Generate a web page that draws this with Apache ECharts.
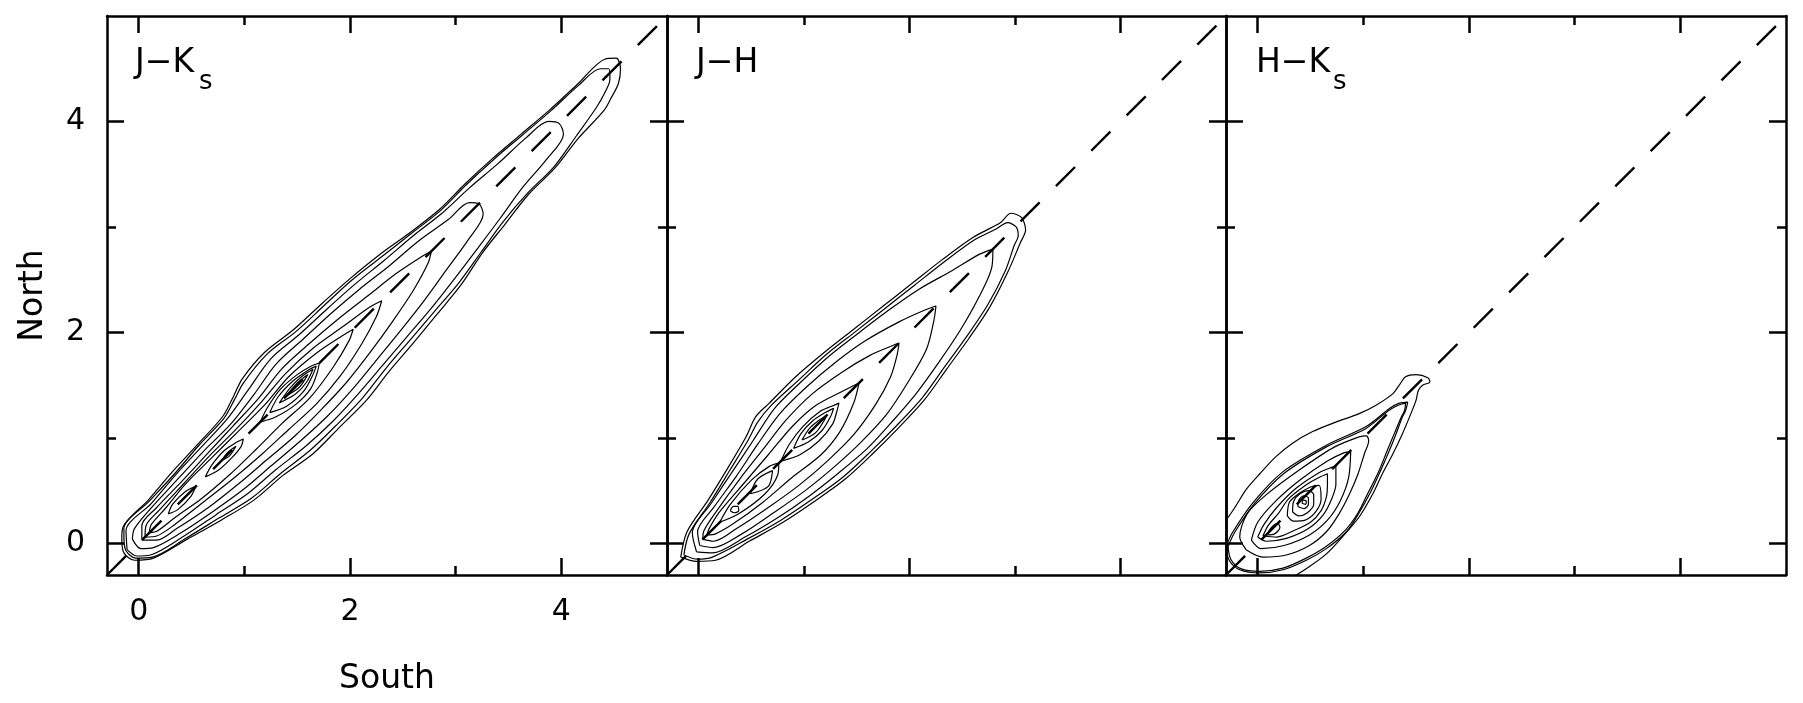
<!DOCTYPE html>
<html><head><meta charset="utf-8">
<script src="https://cdn.jsdelivr.net/npm/echarts@6/dist/echarts.min.js"></script>
<style>html,body{margin:0;padding:0;background:#fff}#c{width:1803px;height:703px}</style>
</head><body><div id="c"></div><script>
// ---------------- data ----------------
const AXIS_RANGE = [-0.3, 5.0];
const MAJOR_TICKS = [0, 2, 4];
const MINOR_TICKS = [1, 3];
const TICK_LABELS = ['0', '2', '4'];
const PANEL_NAMES = ['J\u2212K', 'J\u2212H', 'H\u2212K'];
const PANEL_SUBS = ['s', '', 's'];
const X_TITLE = 'South';
const Y_TITLE = 'North';
const ONE_TO_ONE = [-0.3, 5.0];

// contour outlines (x = South colour, y = North colour)
const contoursJK = [
 [[-0.16,0.04],[-0.15,0.15],[0.09,0.41],[0.32,0.68],[0.56,0.94],[0.80,1.21],[0.90,1.40],[0.98,1.56],[1.19,1.81],[1.47,2.03],[1.73,2.27],[2.00,2.51],[2.27,2.73],[2.56,2.94],[2.84,3.16],[3.09,3.41],[3.35,3.65],[3.62,3.88],[3.89,4.11],[4.15,4.35],[4.41,4.59],[4.52,4.60],[4.56,4.50],[4.54,4.36],[4.47,4.22],[4.40,4.10],[4.16,3.84],[3.94,3.56],[3.69,3.31],[3.47,3.03],[3.25,2.75],[3.05,2.45],[2.83,2.18],[2.60,1.90],[2.37,1.63],[2.15,1.35],[1.90,1.10],[1.65,0.85],[1.36,0.64],[1.09,0.41],[0.78,0.22],[0.46,0.04],[0.14,-0.14],[-0.04,-0.16],[-0.14,-0.09],[-0.16,0.04]],
 [[-0.14,0.04],[-0.14,0.14],[0.10,0.40],[0.34,0.66],[0.57,0.93],[0.81,1.19],[0.91,1.37],[0.99,1.52],[1.21,1.79],[1.49,2.01],[1.75,2.25],[2.01,2.49],[2.29,2.71],[2.57,2.93],[2.85,3.15],[3.10,3.40],[3.36,3.64],[3.63,3.87],[3.90,4.10],[4.16,4.34],[4.37,4.50],[4.45,4.50],[4.46,4.40],[4.41,4.27],[4.33,4.13],[4.14,3.86],[3.93,3.57],[3.68,3.32],[3.45,3.05],[3.24,2.76],[3.03,2.47],[2.80,2.20],[2.57,1.93],[2.34,1.66],[2.12,1.38],[1.87,1.12],[1.62,0.88],[1.34,0.66],[1.07,0.43],[0.76,0.24],[0.45,0.05],[0.13,-0.13],[-0.03,-0.14],[-0.12,-0.07],[-0.14,0.04]],
 [[-0.11,-0.06],[-0.12,0.12],[0.12,0.38],[0.35,0.65],[0.59,0.91],[0.83,1.17],[1.04,1.46],[1.25,1.75],[1.52,1.98],[1.78,2.22],[2.05,2.46],[2.32,2.68],[2.59,2.91],[2.87,3.13],[3.13,3.37],[3.40,3.60],[3.66,3.84],[3.88,4.00],[3.98,3.98],[4.02,3.88],[3.86,3.64],[3.63,3.37],[3.42,3.08],[3.21,2.80],[2.99,2.51],[2.77,2.23],[2.54,1.96],[2.31,1.69],[2.08,1.42],[1.84,1.16],[1.58,0.92],[1.30,0.70],[1.03,0.47],[0.73,0.27],[0.43,0.07],[0.11,-0.11],[-0.02,-0.12],[-0.11,-0.06]],
 [[-0.06,0.04],[-0.04,0.14],[0.14,0.36],[0.38,0.62],[0.62,0.88],[0.87,1.13],[1.09,1.41],[1.30,1.70],[1.56,1.94],[1.82,2.18],[2.09,2.41],[2.37,2.63],[2.64,2.86],[2.93,3.07],[3.13,3.23],[3.22,3.22],[3.26,3.12],[3.12,2.88],[2.91,2.59],[2.70,2.30],[2.48,2.02],[2.26,1.75],[2.03,1.47],[1.79,1.21],[1.53,0.97],[1.26,0.74],[0.99,0.51],[0.70,0.30],[0.40,0.10],[0.14,-0.04],[0.02,-0.05],[-0.06,0.04]],
 [[0.03,0.03],[0.03,0.17],[0.17,0.34],[0.41,0.59],[0.65,0.85],[0.89,1.11],[1.13,1.37],[1.35,1.65],[1.61,1.89],[1.88,2.12],[2.16,2.34],[2.44,2.56],[2.68,2.72],[2.77,2.77],[2.74,2.66],[2.60,2.40],[2.40,2.10],[2.19,1.81],[1.97,1.53],[1.73,1.27],[1.48,1.02],[1.21,0.79],[0.94,0.56],[0.66,0.34],[0.36,0.14],[0.17,0.03],[0.03,0.03]],
 [[0.06,0.06],[0.07,0.17],[0.19,0.31],[0.43,0.57],[0.67,0.83],[0.92,1.08],[1.16,1.34],[1.39,1.61],[1.65,1.85],[1.94,2.06],[2.17,2.23],[2.30,2.30],[2.25,2.15],[2.11,1.89],[1.91,1.59],[1.68,1.32],[1.42,1.08],[1.16,0.84],[0.89,0.61],[0.61,0.39],[0.33,0.17],[0.17,0.07],[0.06,0.06]],
 [[0.10,0.10],[0.12,0.18],[0.26,0.34],[0.44,0.56],[0.69,0.81],[0.94,1.06],[1.19,1.31],[1.42,1.58],[1.69,1.81],[1.93,1.97],[2.03,2.03],[1.99,1.92],[1.84,1.67],[1.62,1.38],[1.36,1.14],[1.11,0.89],[0.86,0.65],[0.59,0.42],[0.35,0.25],[0.18,0.12],[0.10,0.10]],
 [[0.28,0.28],[0.32,0.37],[0.44,0.49],[0.54,0.54],[0.49,0.44],[0.37,0.32],[0.28,0.28]],
 [[0.63,0.63],[0.69,0.74],[0.81,0.88],[0.93,0.96],[0.99,0.99],[0.97,0.92],[0.88,0.81],[0.75,0.69],[0.63,0.63]],
 [[0.79,0.79],[0.84,0.86],[0.92,0.92],[0.86,0.83],[0.79,0.79]],
 [[1.15,1.15],[1.22,1.29],[1.34,1.46],[1.50,1.60],[1.63,1.68],[1.71,1.71],[1.69,1.62],[1.63,1.47],[1.49,1.32],[1.30,1.20],[1.15,1.15]],
 [[1.24,1.24],[1.32,1.39],[1.46,1.54],[1.60,1.64],[1.68,1.68],[1.65,1.60],[1.56,1.44],[1.40,1.30],[1.24,1.24]],
 [[1.33,1.33],[1.43,1.47],[1.54,1.58],[1.65,1.65],[1.59,1.53],[1.49,1.42],[1.33,1.33]],
 [[1.40,1.40],[1.49,1.51],[1.60,1.60],[1.52,1.48],[1.40,1.40]]
];

const contoursJH = [
 [[-0.17,-0.13],[-0.11,0.11],[0.09,0.41],[0.28,0.72],[0.45,1.01],[0.54,1.20],[0.67,1.33],[0.92,1.58],[1.19,1.81],[1.47,2.03],[1.75,2.25],[2.03,2.47],[2.31,2.69],[2.60,2.90],[2.86,3.04],[2.96,3.13],[3.06,3.09],[3.10,2.97],[3.05,2.85],[2.93,2.57],[2.76,2.24],[2.56,1.94],[2.35,1.65],[2.14,1.36],[1.90,1.10],[1.65,0.85],[1.39,0.61],[1.10,0.40],[0.80,0.20],[0.48,0.02],[0.16,-0.16],[-0.02,-0.17],[-0.17,-0.13]],
 [[-0.14,-0.11],[-0.09,0.09],[0.11,0.39],[0.30,0.70],[0.47,0.98],[0.56,1.15],[0.69,1.31],[0.95,1.55],[1.21,1.79],[1.49,2.01],[1.77,2.23],[2.05,2.45],[2.33,2.67],[2.62,2.88],[2.82,2.98],[2.93,3.04],[3.01,3.00],[3.03,2.92],[2.99,2.82],[2.91,2.59],[2.74,2.26],[2.54,1.96],[2.33,1.67],[2.12,1.38],[1.88,1.12],[1.63,0.87],[1.37,0.63],[1.08,0.42],[0.78,0.22],[0.46,0.04],[0.13,-0.13],[-0.01,-0.15],[-0.14,-0.11]],
 [[-0.02,-0.08],[-0.06,0.10],[0.12,0.38],[0.32,0.68],[0.52,0.98],[0.72,1.28],[0.97,1.53],[1.23,1.77],[1.51,1.99],[1.80,2.21],[2.09,2.41],[2.41,2.59],[2.66,2.74],[2.79,2.79],[2.78,2.62],[2.66,2.34],[2.48,2.02],[2.28,1.72],[2.07,1.43],[1.84,1.16],[1.60,0.90],[1.33,0.67],[1.05,0.45],[0.76,0.25],[0.44,0.06],[0.13,-0.09],[-0.02,-0.08]],
 [[0.01,-0.02],[-0.01,0.11],[0.15,0.35],[0.36,0.64],[0.56,0.94],[0.77,1.23],[1.02,1.48],[1.29,1.71],[1.58,1.92],[1.90,2.10],[2.14,2.21],[2.25,2.25],[2.23,2.11],[2.16,1.84],[1.98,1.52],[1.78,1.22],[1.54,0.96],[1.28,0.72],[1.01,0.50],[0.71,0.29],[0.41,0.09],[0.14,-0.04],[0.01,-0.02]],
 [[0.04,0.04],[0.05,0.12],[0.18,0.32],[0.39,0.61],[0.61,0.89],[0.83,1.17],[1.08,1.42],[1.37,1.63],[1.62,1.78],[1.80,1.86],[1.90,1.90],[1.88,1.78],[1.82,1.58],[1.68,1.32],[1.47,1.03],[1.22,0.78],[0.95,0.55],[0.66,0.34],[0.36,0.14],[0.14,0.02],[0.04,0.04]],
 [[0.08,0.08],[0.10,0.14],[0.20,0.30],[0.43,0.57],[0.66,0.84],[0.89,1.11],[1.10,1.30],[1.36,1.44],[1.52,1.52],[1.47,1.33],[1.34,1.06],[1.16,0.84],[0.88,0.62],[0.61,0.39],[0.32,0.18],[0.16,0.09],[0.08,0.08]],
 [[0.20,0.20],[0.30,0.37],[0.50,0.60],[0.67,0.73],[0.76,0.76],[0.75,0.65],[0.63,0.47],[0.38,0.28],[0.20,0.20]],
 [[0.49,0.47],[0.56,0.61],[0.70,0.69],[0.66,0.54],[0.49,0.47]],
 [[0.30,0.31],[0.33,0.35],[0.37,0.35],[0.38,0.31],[0.34,0.29],[0.30,0.31]],
 [[0.78,0.78],[0.86,0.94],[0.99,1.11],[1.15,1.25],[1.26,1.30],[1.33,1.33],[1.31,1.25],[1.27,1.13],[1.14,0.97],[0.96,0.84],[0.78,0.78]],
 [[0.90,0.90],[0.97,1.04],[1.08,1.16],[1.20,1.24],[1.28,1.28],[1.25,1.20],[1.17,1.07],[1.04,0.96],[0.90,0.90]],
 [[0.98,0.98],[1.06,1.10],[1.22,1.22],[1.11,1.05],[0.98,0.98]]
];

const contoursHK = [
 [[-0.45,0.05],[-0.30,0.22],[-0.21,0.35],[-0.11,0.51],[0.02,0.66],[0.17,0.82],[0.33,0.95],[0.52,1.06],[0.74,1.15],[0.96,1.23],[1.12,1.31],[1.28,1.42],[1.34,1.50],[1.40,1.58],[1.50,1.60],[1.61,1.57],[1.63,1.53],[1.56,1.50],[1.52,1.45],[1.50,1.36],[1.45,1.23],[1.37,1.04],[1.28,0.85],[1.18,0.66],[1.09,0.47],[0.96,0.25],[0.80,0.06],[0.65,-0.10],[0.49,-0.22],[0.33,-0.32],[0.10,-0.42],[-0.20,-0.45],[-0.45,-0.20],[-0.45,0.05]],
 [[-0.30,-0.03],[-0.24,0.10],[-0.05,0.38],[0.24,0.68],[0.65,0.93],[1.03,1.11],[1.25,1.28],[1.34,1.33],[1.42,1.34],[1.40,1.26],[1.37,1.20],[1.31,1.04],[1.25,0.89],[1.15,0.66],[1.06,0.47],[0.96,0.29],[0.84,0.11],[0.65,-0.05],[0.46,-0.16],[0.24,-0.25],[0.02,-0.28],[-0.17,-0.25],[-0.27,-0.16],[-0.30,-0.03]],
 [[-0.28,-0.03],[-0.22,0.10],[-0.04,0.365],[0.245,0.66],[0.65,0.915],[1.025,1.09],[1.24,1.26],[1.33,1.31],[1.40,1.33],[1.39,1.26],[1.36,1.20],[1.295,1.045],[1.23,0.89],[1.14,0.67],[1.045,0.48],[0.95,0.29],[0.825,0.12],[0.64,-0.035],[0.45,-0.145],[0.24,-0.235],[0.02,-0.265],[-0.16,-0.24],[-0.255,-0.15],[-0.28,-0.03]],
 [[-0.11,-0.06],[-0.17,0.06],[-0.10,0.28],[0.08,0.46],[0.40,0.70],[0.72,0.91],[0.96,1.01],[1.03,1.02],[1.05,0.97],[1.01,0.85],[0.95,0.66],[0.87,0.47],[0.77,0.28],[0.65,0.11],[0.49,-0.02],[0.27,-0.11],[0.05,-0.13],[-0.11,-0.06]],
 [[-0.06,0.03],[0.00,0.20],[0.17,0.40],[0.40,0.60],[0.66,0.78],[0.82,0.86],[0.88,0.87],[0.86,0.62],[0.78,0.40],[0.66,0.22],[0.49,0.08],[0.25,-0.02],[0.03,-0.05],[-0.06,0.03]],
 [[0.00,0.06],[0.06,0.18],[0.18,0.34],[0.36,0.52],[0.58,0.67],[0.70,0.72],[0.74,0.73],[0.74,0.56],[0.70,0.42],[0.62,0.27],[0.48,0.14],[0.28,0.05],[0.08,0.02],[0.00,0.06]],
 [[0.05,0.07],[0.10,0.17],[0.20,0.29],[0.29,0.42],[0.46,0.555],[0.58,0.625],[0.66,0.66],[0.66,0.56],[0.65,0.44],[0.60,0.31],[0.50,0.20],[0.34,0.12],[0.18,0.06],[0.05,0.07]],
 [[0.28,0.26],[0.30,0.39],[0.38,0.465],[0.50,0.535],[0.58,0.55],[0.60,0.42],[0.55,0.30],[0.45,0.22],[0.34,0.21],[0.28,0.26]],
 [[0.33,0.30],[0.34,0.40],[0.40,0.47],[0.48,0.50],[0.53,0.46],[0.53,0.37],[0.47,0.29],[0.39,0.26],[0.33,0.30]],
 [[0.38,0.35],[0.39,0.41],[0.44,0.45],[0.48,0.43],[0.48,0.37],[0.44,0.33],[0.38,0.35]],
 [[0.42,0.38],[0.43,0.41],[0.46,0.40],[0.45,0.37],[0.42,0.38]],
 [[0.09,0.08],[0.12,0.14],[0.19,0.19],[0.21,0.15],[0.16,0.09],[0.09,0.08]]
];

// ---------------- layout / style ----------------
const FONT = 'DejaVu Sans';
const PANEL_BOX = [{left:107, width:560}, {left:667, width:559}, {left:1226, width:560}];
const BOX_TOP = 16, BOX_H = 559;
const LABEL_POS = [{x:135, sx:199}, {x:696, sx:0}, {x:1256, sx:1333}];
const CONTOURS = [contoursJK, contoursJH, contoursHK];

const grid = [], xAxis = [], yAxis = [], series = [], graphic = [];

function axisDef(gi, pos, ticks, len, showLine, withLabels, extra) {
  const a = {
    type: 'value', gridIndex: gi, position: pos,
    min: AXIS_RANGE[0], max: AXIS_RANGE[1],
    axisLine: {show: showLine, onZero: false, lineStyle: {color: '#000', width: 2.5}},
    axisTick: {show: true, inside: true, length: len, customValues: ticks,
               lineStyle: {color: '#000', width: 2.5}},
    axisLabel: withLabels ? {
      show: true, customValues: MAJOR_TICKS,
      formatter: v => TICK_LABELS[MAJOR_TICKS.indexOf(v)],
      fontSize: 30, color: '#000', fontFamily: FONT, margin: 22
    } : {show: false},
    splitLine: {show: false}
  };
  return Object.assign(a, extra || {});
}

PANEL_BOX.forEach((b, p) => {
  const gMaj = 2 * p, gMin = 2 * p + 1;
  grid.push({left: b.left, top: BOX_TOP, width: b.width, height: BOX_H});
  grid.push({left: b.left, top: BOX_TOP, width: b.width, height: BOX_H});
  const first = p === 0;
  xAxis.push(axisDef(gMaj, 'bottom', MAJOR_TICKS, 17, true, first, first ? {
    name: X_TITLE, nameLocation: 'middle', nameGap: 88,
    nameTextStyle: {fontSize: 33, color: '#000', fontFamily: FONT}
  } : {}));
  xAxis.push(axisDef(gMaj, 'top', MAJOR_TICKS, 17, true, false));
  xAxis.push(axisDef(gMin, 'bottom', MINOR_TICKS, 9, false, false));
  xAxis.push(axisDef(gMin, 'top', MINOR_TICKS, 9, false, false));
  yAxis.push(axisDef(gMaj, 'left', MAJOR_TICKS, 17, true, first, first ? {
    name: Y_TITLE, nameLocation: 'middle', nameGap: 57, nameRotate: 90,
    nameTextStyle: {fontSize: 33, color: '#000', fontFamily: FONT}
  } : {}));
  yAxis.push(axisDef(gMaj, 'right', MAJOR_TICKS, 17, true, false));
  yAxis.push(axisDef(gMin, 'left', MINOR_TICKS, 9, false, false));
  yAxis.push(axisDef(gMin, 'right', MINOR_TICKS, 9, false, false));

  CONTOURS[p].forEach(c => {
    series.push({
      type: 'line', xAxisIndex: 4 * p, yAxisIndex: 4 * p, data: c,
      smooth: 0.3, symbol: 'none', showSymbol: false, clip: true, silent: true,
      lineStyle: {color: '#000', width: 1.2}, z: 2
    });
  });
  series.push({
    type: 'line', xAxisIndex: 4 * p, yAxisIndex: 4 * p,
    data: ONE_TO_ONE.map(v => [v, v]),
    symbol: 'none', showSymbol: false, clip: true, silent: true,
    lineStyle: {color: '#000', width: 2.4, type: [27, 23]}, z: 3
  });

  graphic.push({type: 'text', x: LABEL_POS[p].x, y: 47, silent: true,
    style: {text: PANEL_NAMES[p], fill: '#000', font: '33px "' + FONT + '"', verticalAlign: 'top'}});
  if (PANEL_SUBS[p]) {
    graphic.push({type: 'text', x: LABEL_POS[p].sx, y: 69, silent: true,
      style: {text: PANEL_SUBS[p], fill: '#000', font: '26px "' + FONT + '"', verticalAlign: 'top'}});
  }
});

const chart = echarts.init(document.getElementById('c'));
chart.setOption({
  animation: false,
  backgroundColor: '#fff',
  textStyle: {fontFamily: FONT},
  grid, xAxis, yAxis, series, graphic
});
</script></body></html>
